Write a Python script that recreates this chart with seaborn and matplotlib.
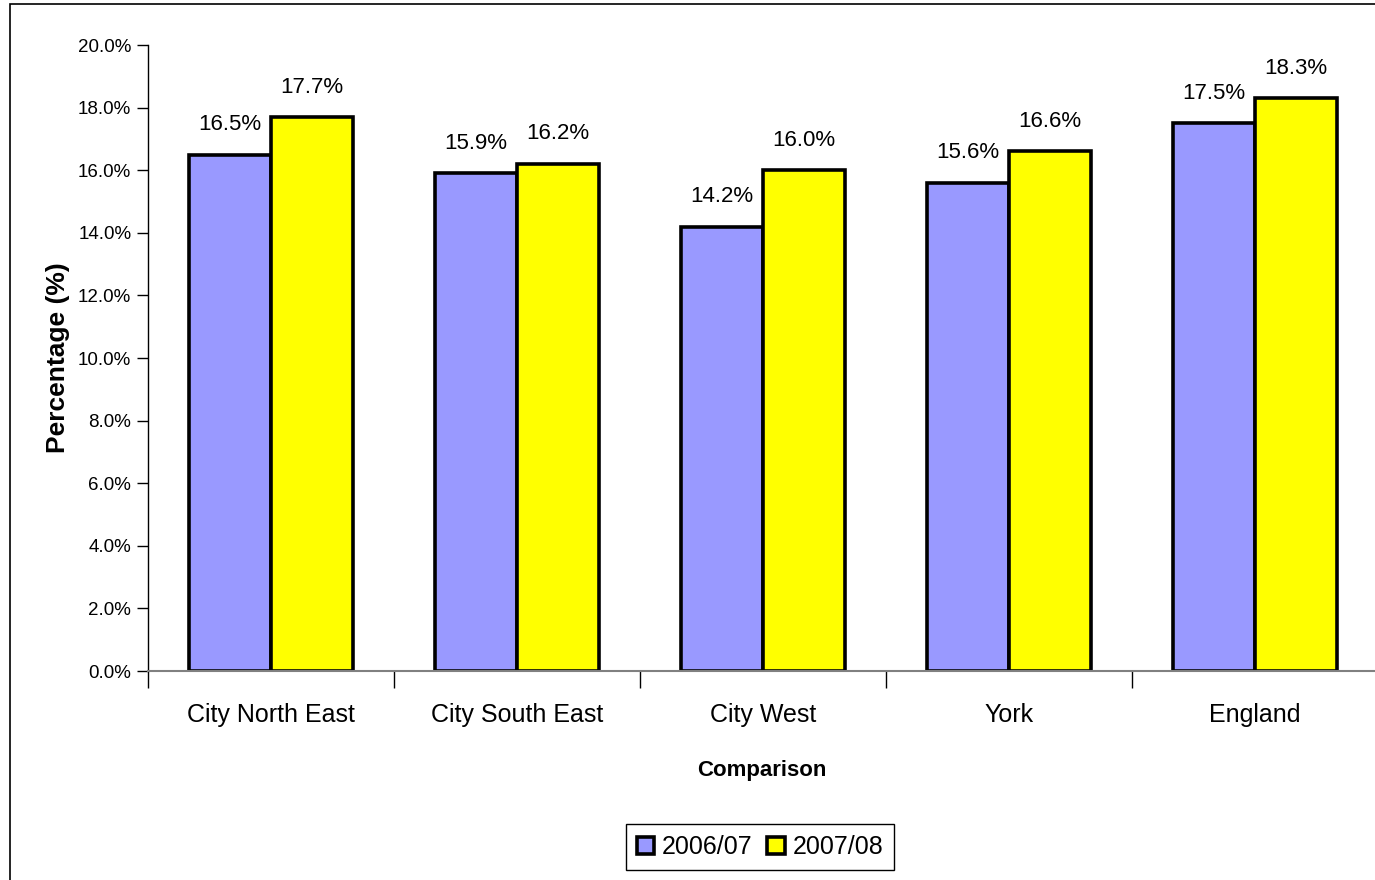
import numpy as np
import pandas as pd
import matplotlib.pyplot as plt
import matplotlib.patches as mpatches
from matplotlib.ticker import FixedLocator, FuncFormatter
import seaborn as sns

sns.set_style("white", rc={'text.color': 'black', 'axes.labelcolor': 'black',
                           'xtick.color': 'black', 'ytick.color': 'black'})
plt.rcParams['font.family'] = ['Liberation Sans', 'DejaVu Sans']

# Data
areas = ['City North East', 'City South East', 'City West', 'York', 'England']
years = ['2006/07', '2007/08']
pct_0607 = [16.5, 15.9, 14.2, 15.6, 17.5]
pct_0708 = [17.7, 16.2, 16.0, 16.6, 18.3]
yticks = [0, 2, 4, 6, 8, 10, 12, 14, 16, 18, 20]

colors = ['#9999FF', '#FFFF00']

df = pd.DataFrame({
    'Comparison': areas * 2,
    'Percentage': pct_0607 + pct_0708,
    'Year': [years[0]] * len(areas) + [years[1]] * len(areas),
})

fig = plt.figure(figsize=(13.75, 8.8), dpi=100)
ax = fig.add_axes([148/1375, 1 - 671/880, 1 - 148/1375, (671 - 45)/880])

sns.barplot(data=df, x='Comparison', y='Percentage', hue='Year', palette=colors,
            width=2/3, gap=0, edgecolor='black', linewidth=2.6, saturation=1,
            ax=ax)

# value labels
for cont in ax.containers:
    ax.bar_label(cont, labels=['{:.1f}%'.format(v) for v in cont.datavalues],
                 padding=14, fontsize=16, color='black')

ax.set_ylim(0, 20)
ax.set_xlim(-0.5, 4.5 - 3/246)
ax.yaxis.set_major_locator(FixedLocator(yticks))
ax.yaxis.set_major_formatter(FuncFormatter(lambda v, p: '{:.1f}%'.format(v)))
ax.tick_params(axis='y', which='major', left=True, length=8, width=1, color='black',
               labelsize=13.5, pad=4)

# category ticks sit between groups
ax.set_xticks(np.arange(len(areas)))
ax.set_xticklabels(areas)
ax.set_xticks(np.arange(len(areas)) - 0.5, minor=True)
ax.tick_params(axis='x', which='major', length=0, labelsize=18, pad=23)
ax.tick_params(axis='x', which='minor', bottom=True, length=12, width=1, color='black')

ax.set_xlabel('Comparison', fontsize=16, fontweight='bold', labelpad=24)
ax.set_ylabel('Percentage (%)', fontsize=19, fontweight='bold', labelpad=6)

for s in ['top', 'right']:
    ax.spines[s].set_visible(False)
ax.spines['left'].set_color('black')
ax.spines['left'].set_linewidth(1)
ax.spines['bottom'].set_color('#808080')
ax.spines['bottom'].set_linewidth(1.5)

handles, labels = ax.get_legend_handles_labels()
ax.legend(handles, labels, loc='center', bbox_to_anchor=(760/1375, 1 - 847/880),
          bbox_transform=fig.transFigure, ncol=2, fontsize=18, frameon=True,
          fancybox=False, edgecolor='black', framealpha=1,
          handlelength=0.7, handleheight=0.7, handletextpad=0.3, columnspacing=0.6,
          borderpad=0.45)

# outer chart frame (cut off at right and bottom)
fig.patches.append(mpatches.Rectangle((10/1375, -0.1), 1.2, 1 - 4/880 + 0.1,
                                      transform=fig.transFigure, fill=False,
                                      edgecolor='black', linewidth=1.2))

fig.savefig('out.png', dpi=100)
